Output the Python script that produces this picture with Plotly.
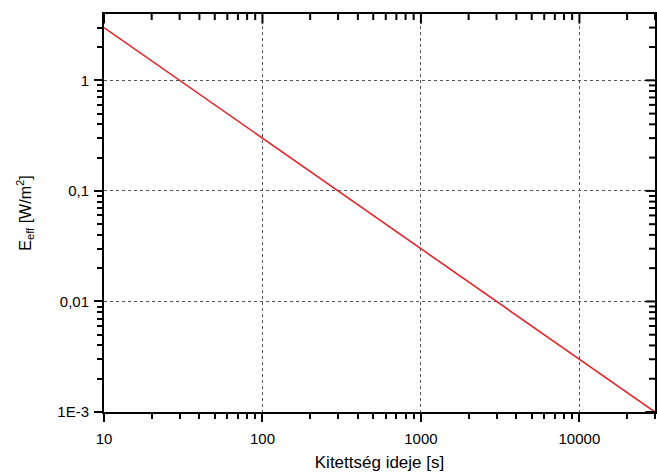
import numpy as np
import plotly.graph_objects as go

# data
t_vals = [10, 30000]
e_vals = [3.0, 0.001]

x_tickvals = [10, 100, 1000, 10000]
x_ticktext = ["10", "100", "1000", "10000"]
y_tickvals = [0.001, 0.01, 0.1, 1]
y_ticktext = ["1E-3", "0,01", "0,1", "1"]

x_lo, x_hi = 1.0, np.log10(30000)   # log10 range
y_lo, y_hi = -3.0, 0.6
x_minor = [m * 10**d for d in range(1, 5) for m in range(2, 10) if np.log10(m * 10**d) <= x_hi]
y_minor = [m * 10.0**d for d in range(-3, 1) for m in range(2, 10) if np.log10(m * 10.0**d) <= y_hi]

W, H = 657, 472
ML, MR, MT, MB = 104, 2, 14, 60
px_x = (W - ML - MR) / (x_hi - x_lo)   # pixels per decade
px_y = (H - MT - MB) / (y_hi - y_lo)

font = dict(family="Liberation Sans, Arial, sans-serif", size=15, color="black")

fig = go.Figure()
fig.add_trace(go.Scatter(x=t_vals, y=e_vals, mode="lines",
                         line=dict(color="#e0262a", width=1.6),
                         showlegend=False, hoverinfo="skip"))

# tick marks drawn as line markers (all four sides)
def tick_trace(xs, ys, symbol, size):
    fig.add_trace(go.Scatter(x=xs, y=ys, mode="markers", cliponaxis=False,
                             marker=dict(symbol=symbol, size=size, color="black",
                                         line=dict(width=2, color="black")),
                             showlegend=False, hoverinfo="skip"))

for vals, L in [(x_tickvals, 8), (x_minor, 5)]:
    off = (L / 2) / px_y
    tick_trace(vals, [10 ** (y_lo - off)] * len(vals), "line-ns", L)   # bottom outside
    tick_trace(vals, [10 ** (y_hi - off)] * len(vals), "line-ns", L)   # top inside
for vals, L in [(y_tickvals, 8), (y_minor, 5)]:
    off = (L / 2) / px_x
    tick_trace([10 ** (x_lo - off)] * len(vals), vals, "line-ew", L)   # left outside
    tick_trace([10 ** (x_hi - off)] * len(vals), vals, "line-ew", L)   # right inside

fig.update_layout(
    template="none",
    width=W, height=H,
    margin=dict(l=ML, r=MR, t=MT, b=MB),
    paper_bgcolor="white", plot_bgcolor="white",
    font=font,
    xaxis=dict(type="log", range=[x_lo, x_hi], tickmode="array", tickvals=x_tickvals,
               ticktext=x_ticktext,
               showline=True, linecolor="black", linewidth=2, mirror=True,
               ticks="outside", ticklen=8, tickwidth=2, tickcolor="black",
               minor=dict(ticks="outside", ticklen=5, tickwidth=2, tickcolor="black",
                          dtick="D1", showgrid=False),
               ticklabelstandoff=4,
               showgrid=True, gridcolor="#555555", griddash="dot", gridwidth=1,
               title=dict(text="Kitettség ideje [s]", font=dict(size=17), standoff=12)),
    yaxis=dict(type="log", range=[y_lo, y_hi], tickmode="array", tickvals=y_tickvals,
               ticktext=y_ticktext,
               showline=True, linecolor="black", linewidth=2, mirror=True,
               ticks="outside", ticklen=8, tickwidth=2, tickcolor="black",
               minor=dict(ticks="outside", ticklen=5, tickwidth=2, tickcolor="black",
                          dtick="D1", showgrid=False),
               ticklabelstandoff=2,
               showgrid=True, gridcolor="#555555", griddash="dot", gridwidth=1,
               title=dict(text="E<sub>eff</sub> [W/m<sup>2</sup>]", font=dict(size=16), standoff=22)),
)

fig.write_html("out.html")
